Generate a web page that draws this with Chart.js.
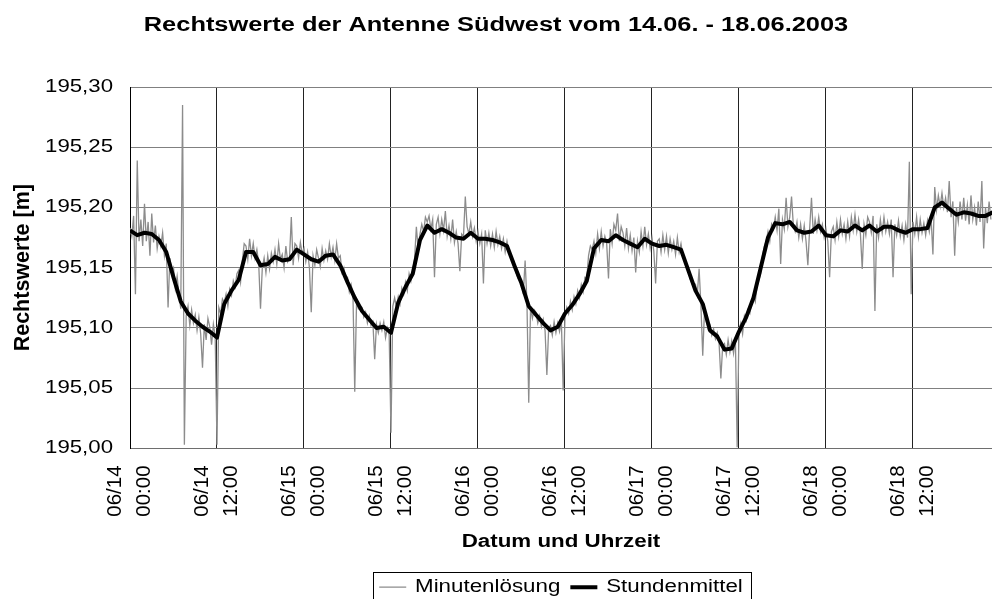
<!DOCTYPE html>
<html>
<head>
<meta charset="utf-8">
<script src="https://cdn.jsdelivr.net/npm/chart.js@4.4.1/dist/chart.umd.min.js"></script>
<style>
  html, body { margin: 0; padding: 0; background: #fff; }
  #wrap { width: 992px; height: 599px; position: relative; }
</style>
</head>
<body>
<div id="wrap"><canvas id="chart"></canvas></div>
<script>
// hours since 14.06. 00:00
const xTickHours = [0, 12, 24, 36, 48, 60, 72, 84, 96, 108];
const xTickLabels = [
    ["06/14", "00:00"], ["06/14", "12:00"], ["06/15", "00:00"], ["06/15", "12:00"],
    ["06/16", "00:00"], ["06/16", "12:00"], ["06/17", "00:00"], ["06/17", "12:00"],
    ["06/18", "00:00"], ["06/18", "12:00"]
];
const yTicks = [195.00, 195.05, 195.10, 195.15, 195.20, 195.25, 195.30];

// Stundenmittel, one value per hour (h0 .. h119)
const hourlyValues = [
    195.181, 195.177, 195.179, 195.178, 195.173, 195.163, 195.142, 195.122, 195.112, 195.106,
    195.101, 195.097, 195.092, 195.120, 195.131, 195.140, 195.163, 195.163, 195.152, 195.153,
    195.159, 195.156, 195.157, 195.165, 195.161, 195.157, 195.155, 195.160, 195.161, 195.152,
    195.138, 195.125, 195.114, 195.107, 195.100, 195.101, 195.096, 195.121, 195.134, 195.145,
    195.173, 195.185, 195.179, 195.182, 195.179, 195.175, 195.174, 195.179, 195.174, 195.174,
    195.173, 195.171, 195.168, 195.152, 195.137, 195.118, 195.111, 195.104, 195.098, 195.101,
    195.112, 195.119, 195.128, 195.139, 195.166, 195.173, 195.172, 195.177, 195.173, 195.170,
    195.167, 195.174, 195.170, 195.168, 195.169, 195.167, 195.165, 195.148, 195.131, 195.120,
    195.098, 195.093, 195.082, 195.083, 195.097, 195.109, 195.125, 195.150, 195.175, 195.187,
    195.186, 195.188, 195.181, 195.179, 195.180, 195.185, 195.177, 195.176, 195.181, 195.180,
    195.185, 195.181, 195.185, 195.180, 195.184, 195.184, 195.181, 195.179, 195.182, 195.182,
    195.183, 195.200, 195.204, 195.199, 195.194, 195.196, 195.195, 195.193, 195.193, 195.196
];

const minuteStepHours = 0.25;
const minuteValues = [
    195.183, 195.176, 195.193, 195.128, 195.239, 195.172, 195.190, 195.168,
    195.203, 195.172, 195.188, 195.160, 195.195, 195.171, 195.185, 195.166,
    195.176, 195.168, 195.179, 195.160, 195.170, 195.117, 195.158, 195.147,
    195.150, 195.133, 195.143, 195.128, 195.116, 195.285, 195.003, 195.110,
    195.118, 195.102, 195.115, 195.104, 195.111, 195.098, 195.109, 195.095,
    195.067, 195.103, 195.090, 195.108, 195.101, 195.086, 195.103, 195.093,
    195.003, 195.117, 195.112, 195.124, 195.121, 195.128, 195.118, 195.132,
    195.127, 195.139, 195.134, 195.145, 195.148, 195.138, 195.156, 195.170,
    195.168, 195.157, 195.174, 195.160, 195.170, 195.158, 195.165, 195.154,
    195.116, 195.150, 195.158, 195.146, 195.160, 195.149, 195.162, 195.155,
    195.165, 195.153, 195.170, 195.157, 195.161, 195.150, 195.168, 195.155,
    195.158, 195.192, 195.152, 195.170, 195.168, 195.158, 195.171, 195.162,
    195.166, 195.155, 195.163, 195.150, 195.113, 195.160, 195.152, 195.165,
    195.158, 195.151, 195.166, 195.156, 195.164, 195.157, 195.170, 195.159,
    195.167, 195.156, 195.170, 195.158, 195.160, 195.146, 195.150, 195.141,
    195.142, 195.130, 195.136, 195.128, 195.047, 195.122, 195.116, 195.118,
    195.117, 195.109, 195.113, 195.104, 195.110, 195.102, 195.105, 195.074,
    195.103, 195.096, 195.104, 195.098, 195.105, 195.092, 195.100, 195.094,
    195.013, 195.118, 195.125, 195.117, 195.126, 195.120, 195.133, 195.128,
    195.138, 195.131, 195.145, 195.139, 195.148, 195.157, 195.184, 195.165,
    195.178, 195.186, 195.180, 195.192, 195.188, 195.193, 195.182, 195.190,
    195.142, 195.186, 195.192, 195.178, 195.190, 195.181, 195.197, 195.176,
    195.185, 195.174, 195.190, 195.171, 195.180, 195.170, 195.147, 195.178,
    195.176, 195.209, 195.184, 195.178, 195.188, 195.176, 195.183, 195.172,
    195.180, 195.170, 195.178, 195.137, 195.181, 195.170, 195.179, 195.168,
    195.178, 195.167, 195.180, 195.169, 195.176, 195.166, 195.174, 195.163,
    195.172, 195.164, 195.160, 195.157, 195.155, 195.146, 195.141, 195.139,
    195.140, 195.128, 195.156, 195.122, 195.038, 195.117, 195.108, 195.115,
    195.113, 195.104, 195.110, 195.101, 195.107, 195.098, 195.061, 195.100,
    195.102, 195.094, 195.105, 195.096, 195.104, 195.097, 195.106, 195.048,
    195.110, 195.117, 195.112, 195.122, 195.115, 195.126, 195.120, 195.131,
    195.125, 195.136, 195.130, 195.142, 195.141, 195.160, 195.168, 195.165,
    195.172, 195.162, 195.178, 195.166, 195.180, 195.168, 195.176, 195.170,
    195.141, 195.182, 195.170, 195.186, 195.181, 195.195, 195.172, 195.184,
    195.179, 195.168, 195.183, 195.166, 195.177, 195.164, 195.175, 195.146,
    195.172, 195.163, 195.180, 195.168, 195.184, 195.169, 195.178, 195.166,
    195.175, 195.164, 195.137, 195.172, 195.174, 195.163, 195.177, 195.165,
    195.176, 195.162, 195.174, 195.165, 195.172, 195.161, 195.175, 195.163,
    195.170, 195.160, 195.158, 195.151, 195.150, 195.141, 195.137, 195.134,
    195.136, 195.128, 195.149, 195.119, 195.077, 195.116, 195.105, 195.099,
    195.102, 195.094, 195.099, 195.091, 195.096, 195.088, 195.058, 195.085,
    195.087, 195.078, 195.090, 195.080, 195.089, 195.079, 195.092, 195.001,
    195.098, 195.104, 195.095, 195.110, 195.106, 195.115, 195.112, 195.121,
    195.128, 195.122, 195.135, 195.140, 195.145, 195.160, 195.168, 195.172,
    195.180, 195.172, 195.186, 195.182, 195.192, 195.181, 195.199, 195.153,
    195.190, 195.182, 195.208, 195.184, 195.192, 195.209, 195.185, 195.180,
    195.188, 195.175, 195.186, 195.174, 195.185, 195.172, 195.152, 195.183,
    195.208, 195.178, 195.190, 195.181, 195.192, 195.180, 195.186, 195.175,
    195.182, 195.172, 195.142, 195.180, 195.184, 195.173, 195.188, 195.176,
    195.190, 195.178, 195.186, 195.174, 195.188, 195.176, 195.192, 195.181,
    195.194, 195.180, 195.190, 195.178, 195.149, 195.186, 195.177, 195.192,
    195.188, 195.179, 195.193, 195.114, 195.186, 195.175, 195.190, 195.179,
    195.192, 195.180, 195.188, 195.178, 195.190, 195.142, 195.186, 195.177,
    195.189, 195.176, 195.185, 195.173, 195.186, 195.175, 195.238, 195.128,
    195.188, 195.178, 195.192, 195.176, 195.190, 195.179, 195.187, 195.177,
    195.189, 195.180, 195.191, 195.161, 195.217, 195.198, 195.210, 195.201,
    195.212, 195.200, 195.208, 195.196, 195.222, 195.192, 195.205, 195.160,
    195.200, 195.188, 195.205, 195.190, 195.208, 195.189, 195.202, 195.186,
    195.210, 195.190, 195.200, 195.185, 195.205, 195.188, 195.222, 195.166,
    195.200, 195.187, 195.205, 195.190
];

const xMaxHours = 118.9;

// the original export has horizontally widened text; rotated text stays normal
const textStretch = 1.27;
const canvas = document.getElementById("chart");
const ctx = canvas.getContext("2d");
const baseFill = CanvasRenderingContext2D.prototype.fillText;
const baseMeasure = CanvasRenderingContext2D.prototype.measureText;
function isRotated(c) {
    const m = c.getTransform();
    return Math.abs(m.b) > 1e-6 || Math.abs(m.c) > 1e-6;
}
ctx.fillText = function (text, x, y) {
    if (isRotated(this)) return baseFill.call(this, text, x, y);
    this.save();
    this.translate(x, y);
    this.scale(textStretch, 1);
    baseFill.call(this, text, 0, 0);
    this.restore();
};
ctx.measureText = function (text) {
    const m = baseMeasure.call(this, text);
    return {
        width: m.width * textStretch,
        actualBoundingBoxAscent: m.actualBoundingBoxAscent,
        actualBoundingBoxDescent: m.actualBoundingBoxDescent,
        actualBoundingBoxLeft: m.actualBoundingBoxLeft * textStretch,
        actualBoundingBoxRight: m.actualBoundingBoxRight * textStretch
    };
};

// frame round the legend, like the Excel legend box
const legendFrame = {
    id: "legendFrame",
    afterDraw(chart) {
        const boxes = chart.legend.legendHitBoxes;
        if (!boxes || !boxes.length) return;
        const first = boxes[0], last = boxes[boxes.length - 1];
        const c = chart.ctx;
        const left = Math.round(first.left - 6) + 0.5;
        const right = Math.round(last.left + last.width + 8) + 0.5;
        const top = Math.round(first.top - 6.5) + 0.5;
        c.save();
        c.strokeStyle = "#000";
        c.lineWidth = 1;
        c.strokeRect(left, top, right - left, 40);
        c.restore();
    }
};

Chart.defaults.font.family = "'Liberation Sans', Arial, sans-serif";
Chart.defaults.color = "#000";

new Chart(ctx, {
    type: "line",
    data: {
        datasets: [{
            label: "Minutenlösung",
            data: minuteValues.map((v, i) => ({ x: i * minuteStepHours, y: v })),
            borderColor: "rgb(140,140,140)",
            borderWidth: 1.3,
            pointRadius: 0,
            pointStyle: "line",
            tension: 0,
            order: 1
        }, {
            label: "Stundenmittel",
            data: hourlyValues.map((v, h) => ({ x: h, y: v })),
            borderColor: "#000",
            borderWidth: 4,
            borderJoinStyle: "round",
            pointRadius: 0,
            pointStyle: "line",
            tension: 0,
            order: 0
        }]
    },
    options: {
        responsive: true,
        maintainAspectRatio: false,
        animation: false,
        events: [],
        layout: { padding: { left: 0, right: 0, top: 0, bottom: -7 } },
        scales: {
            x: {
                type: "linear",
                min: 0,
                max: xMaxHours,
                afterBuildTicks(scale) { scale.ticks = xTickHours.map(v => ({ value: v })); },
                afterFit(scale) { scale.height = 120; },
                grid: { color: "#222", lineWidth: 1, drawTicks: false },
                border: { color: "#6e6e6e", width: 1 },
                ticks: {
                    autoSkip: false,
                    minRotation: 90,
                    maxRotation: 90,
                    padding: 17,
                    labelOffset: -15,
                    font: { size: 20.5, lineHeight: 1.45 },
                    callback: (v, i) => xTickLabels[i]
                },
                title: {
                    display: true,
                    text: "Datum und Uhrzeit",
                    font: { size: 17.6, weight: "bold" },
                    padding: { top: 0, bottom: 16 }
                }
            },
            y: {
                min: 195.0,
                max: 195.3,
                afterBuildTicks(scale) { scale.ticks = yTicks.map(v => ({ value: v })); },
                afterFit(scale) { scale.width = 130; },
                grid: { color: "#808080", lineWidth: 1, drawTicks: false },
                border: { color: "#000", width: 1 },
                ticks: {
                    padding: 17,
                    font: { size: 17.5 },
                    callback: v => v.toFixed(2).replace(".", ",")
                },
                title: {
                    display: true,
                    text: "Rechtswerte [m]",
                    font: { size: 21.5, weight: "bold" },
                    padding: { top: 10, bottom: 0 }
                }
            }
        },
        plugins: {
            title: {
                display: true,
                text: "Rechtswerte der Antenne Südwest vom 14.06. - 18.06.2003",
                font: { size: 20, weight: "bold" },
                padding: { top: 13, bottom: 50 }
            },
            legend: {
                position: "bottom",
                fullSize: false,
                labels: {
                    usePointStyle: true,
                    pointStyleWidth: 27,
                    padding: 10,
                    font: { size: 17.6 },
                    color: "#000",
                    sort: (a, b) => a.datasetIndex - b.datasetIndex
                }
            },
            tooltip: { enabled: false }
        }
    },
    plugins: [legendFrame]
});
</script>
</body>
</html>
